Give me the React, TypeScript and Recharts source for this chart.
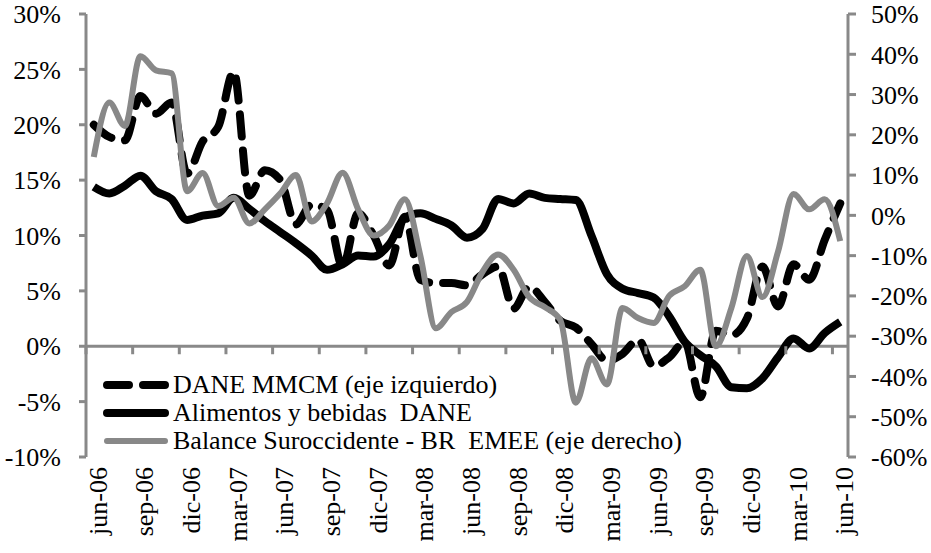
import React from "react";
import {
  LineChart,
  Line,
  XAxis,
  YAxis,
  ReferenceLine,
  Legend,
} from "recharts";

// monthly series jun-06 .. jun-10
const months = [
  "jun-06", "jul-06", "ago-06", "sep-06", "oct-06", "nov-06", "dic-06",
  "ene-07", "feb-07", "mar-07", "abr-07", "may-07", "jun-07", "jul-07", "ago-07", "sep-07", "oct-07", "nov-07", "dic-07",
  "ene-08", "feb-08", "mar-08", "abr-08", "may-08", "jun-08", "jul-08", "ago-08", "sep-08", "oct-08", "nov-08", "dic-08",
  "ene-09", "feb-09", "mar-09", "abr-09", "may-09", "jun-09", "jul-09", "ago-09", "sep-09", "oct-09", "nov-09", "dic-09",
  "ene-10", "feb-10", "mar-10", "abr-10", "may-10", "jun-10",
];

const daneMMCM = [
  20.0, 18.9, 18.6, 22.6, 21.0, 22.0, 15.6, 18.5, 19.8, 24.8, 13.6, 15.9,
  15.0, 11.0, 12.8, 12.3, 7.2, 12.0, 10.0, 7.3, 11.7, 6.0, 5.7, 5.7,
  5.5, 6.5, 7.2, 3.4, 5.4, 4.0, 2.3, 1.7, 0.2, -1.3, -0.7, 0.6,
  -1.8, -1.0, 0.4, -4.6, 1.4, 1.0, 2.5, 7.2, 3.6, 7.4, 6.0, 9.6, 12.9,
];

const alimentos = [
  14.4, 13.8, 14.5, 15.4, 14.0, 13.3, 11.4, 11.8, 12.0, 13.4, 12.4, 11.3,
  10.3, 9.3, 8.2, 6.9, 7.4, 8.2, 8.1, 9.2, 11.6, 12.0, 11.5, 10.9,
  9.8, 10.6, 13.3, 12.9, 13.8, 13.4, 13.3, 13.2, 10.0, 6.5, 5.2, 4.8,
  4.4, 2.7, 0.4, -0.8, -1.8, -3.7, -3.8, -2.9, -1.0, 0.7, -0.2, 1.2, 2.2,
];

const balance = [
  14.5, 28.0, 22.2, 39.5, 36.0, 35.3, 6.0, 10.5, 2.3, 4.4, -2.0, 1.5,
  5.5, 10.0, -1.5, 3.0, 10.6, 1.5, -5.0, -2.5, 4.0, -10.0, -28.0, -24.0,
  -21.5, -14.0, -9.7, -13.5, -20.3, -22.8, -26.0, -46.5, -35.5, -42.0, -23.0, -25.5,
  -26.7, -20.0, -17.6, -13.5, -32.5, -23.0, -10.1, -20.3, -9.0, 5.3, 1.5, 4.0, -6.4,
];

const leftTicks = [-10, -5, 0, 5, 10, 15, 20, 25, 30];
const rightTicks = [-60, -50, -40, -30, -20, -10, 0, 10, 20, 30, 40, 50];

const data = months.map((m, i) => ({
  m,
  dane: daneMMCM[i],
  alim: alimentos[i],
  bal: balance[i],
}));

const W = 931;
const H = 553;
const TOP = 14;
const LEFT_W = 86;
const RIGHT_W = 83;
const X_H = 96;
const PLOT_W = W - LEFT_W - RIGHT_W;
const PLOT_H = H - TOP - X_H;
const HALF = PLOT_W / months.length / 2;
const ZERO_Y = TOP + (PLOT_H * 30) / 40;

const AXIS = "#898989";
const GRAY = "#888888";
const FONT = '"Liberation Serif", "Times New Roman", serif';
const FS = 26;

const XTick = (props: any) => {
  const { x, payload } = props;
  return (
    <g>
      <line x1={x - HALF} x2={x - HALF} y1={ZERO_Y} y2={ZERO_Y + 8} stroke={AXIS} strokeWidth={3} />
      <text
        transform={`translate(${x + 13},${TOP + PLOT_H + 10}) rotate(-90)`}
        textAnchor="end"
        fontSize={FS}
        style={{ fontFamily: FONT }}
        fill="#000"
      >
        {payload.value}
      </text>
    </g>
  );
};

const items = [
  { label: "DANE MMCM (eje izquierdo)", color: "#000", width: 8, dash: "22 14" },
  { label: "Alimentos y bebidas  DANE", color: "#000", width: 8, dash: undefined },
  { label: "Balance Suroccidente - BR  EMEE (eje derecho)", color: GRAY, width: 6, dash: undefined },
];

const LegendBox = () => (
  <div style={{ fontFamily: FONT, fontSize: FS, color: "#000" }}>
    {items.map((it) => (
      <div key={it.label} style={{ height: 28, display: "flex", alignItems: "center", whiteSpace: "pre" }}>
        <svg width={70} height={28} style={{ display: "block" }}>
          <line
            x1={4}
            x2={62}
            y1={14}
            y2={14}
            stroke={it.color}
            strokeWidth={it.width}
            strokeLinecap="round"
            strokeDasharray={it.dash}
          />
        </svg>
        <span>{it.label}</span>
      </div>
    ))}
  </div>
);

export default function App() {
  return (
    <div style={{ position: "absolute", left: 0, top: 0, background: "#fff", fontFamily: FONT }}>
      <LineChart width={W} height={H} data={data} margin={{ top: TOP, right: 0, bottom: 0, left: 0 }}>
        <XAxis
          dataKey="m"
          interval={2}
          height={X_H}
          axisLine={false}
          tickLine={false}
          padding={{ left: HALF, right: HALF }}
          tick={<XTick />}
        />
        <YAxis
          yAxisId="left"
          width={LEFT_W}
          domain={[-10, 30]}
          ticks={leftTicks}
          interval={0}
          tickFormatter={(v: number) => `${v}%`}
          axisLine={{ stroke: AXIS, strokeWidth: 3 }}
          tickLine={{ stroke: AXIS, strokeWidth: 3 }}
          tickSize={7}
          tickMargin={18}
          tick={{ fill: "#000", fontSize: FS, style: { fontFamily: FONT } }}
        />
        <YAxis
          yAxisId="right"
          orientation="right"
          width={RIGHT_W}
          domain={[-60, 50]}
          ticks={rightTicks}
          interval={0}
          tickFormatter={(v: number) => `${v}%`}
          axisLine={{ stroke: AXIS, strokeWidth: 3 }}
          tickLine={{ stroke: AXIS, strokeWidth: 3 }}
          tickSize={8}
          tickMargin={15}
          tick={{ fill: "#000", fontSize: FS, style: { fontFamily: FONT } }}
        />
        <ReferenceLine yAxisId="left" y={0} stroke={AXIS} strokeWidth={3} />
        <Legend
          layout="vertical"
          align="center"
          verticalAlign="middle"
          content={<LegendBox />}
          wrapperStyle={{ top: 371, left: 103, width: "auto" }}
        />
        <Line
          yAxisId="left"
          dataKey="dane"
          type="monotone"
          stroke="#000"
          strokeWidth={8}
          strokeDasharray="22 14"
          strokeLinecap="round"
          dot={false}
          isAnimationActive={false}
        />
        <Line
          yAxisId="left"
          dataKey="alim"
          type="monotone"
          stroke="#000"
          strokeWidth={8}
          dot={false}
          isAnimationActive={false}
        />
        <Line
          yAxisId="right"
          dataKey="bal"
          type="monotone"
          stroke={GRAY}
          strokeWidth={6}
          dot={false}
          isAnimationActive={false}
        />
      </LineChart>
    </div>
  );
}
